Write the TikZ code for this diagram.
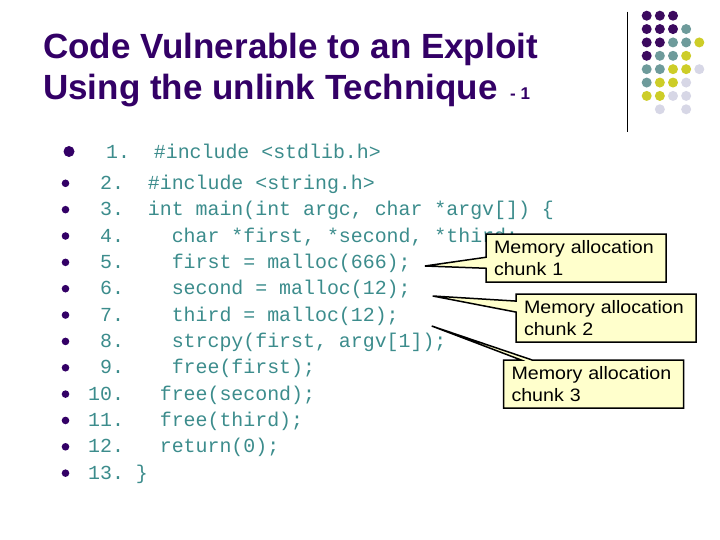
\documentclass[tikz,border=0pt]{standalone}
\usepackage{fontspec}
\setmainfont{Liberation Sans}
\newfontfamily\codemono{Liberation Mono}
\newfontfamily\notefont[FakeStretch=1.09]{Liberation Sans}
\usetikzlibrary{shapes.callouts}

\definecolor{titlepurple}{RGB}{51,0,102}
\definecolor{codeteal}{RGB}{60,140,140}
\definecolor{noteyellow}{RGB}{255,255,204}
\definecolor{dotpurple}{RGB}{60,10,95}
\definecolor{dotteal}{RGB}{110,155,155}
\definecolor{dotyellow}{RGB}{205,205,40}
\definecolor{dotlilac}{RGB}{215,215,230}

\tikzset{
  slidetitle/.style={anchor=base west, inner sep=0pt, text=titlepurple, font=\bfseries\fontsize{35}{40}\selectfont},
  codeline/.style={anchor=base west, inner sep=0pt, text=codeteal, font=\codemono\fontsize{19.9}{22}\selectfont},
  memnote/.style={rectangle callout, draw=black, line width=1.5pt, fill=noteyellow, inner sep=0pt,
    minimum width=180pt, minimum height=48pt, text width=164pt, align=left,
    callout pointer width=11pt, font=\notefont\fontsize{18}{22}\selectfont},
}

\begin{document}
\begin{tikzpicture}[x=1pt,y=-1pt]
\useasboundingbox (0,0) rectangle (720,540);
% title
\node[slidetitle] (title1) at (43,58.3) {Code Vulnerable to an Exploit};
\node[slidetitle] (title2) at (43,100) {Using the unlink Technique};
\node[slidetitle, font=\bfseries\fontsize{17}{20}\selectfont] (partno) at (510,100) {-~1};
% corner decoration
\draw[line width=1pt] (627.3,11.7) -- (627.3,131.7);
\foreach \col/\row/\dc in {0/0/dotpurple, 1/0/dotpurple, 2/0/dotpurple,
    0/1/dotpurple, 1/1/dotpurple, 2/1/dotpurple, 3/1/dotteal,
    0/2/dotpurple, 1/2/dotpurple, 2/2/dotteal, 3/2/dotteal, 4/2/dotyellow,
    0/3/dotpurple, 1/3/dotteal, 2/3/dotteal, 3/3/dotyellow,
    0/4/dotteal, 1/4/dotteal, 2/4/dotyellow, 3/4/dotyellow, 4/4/dotlilac,
    0/5/dotteal, 1/5/dotyellow, 2/5/dotyellow, 3/5/dotlilac,
    0/6/dotyellow, 1/6/dotyellow, 2/6/dotlilac, 3/6/dotlilac,
    1/7/dotlilac, 3/7/dotlilac}
  \fill[\dc] (646.7+13.15*\col, 15.7+13.37*\row) circle (5pt);
% bullets
\fill[titlepurple] (69,151.5) circle (5.5pt);
\foreach \by in {189.3,215.65,242.0,268.35,294.7,321.05,347.4,373.75,400.1,426.45,452.8,479.15}
  \fill[titlepurple] (65.5,\by-6) circle (3.8pt);
% code
\node[codeline] (l1) at (94,158.3) {~1.~~\#include <stdlib.h>};
\node[codeline] (l2) at (88,189.3) {~2.~~\#include <string.h>};
\node[codeline] (l3) at (88,215.65) {~3.~~int main(int argc, char *argv[]) \{};
\node[codeline] (l4) at (88,242.0) {~4.~~~~char *first, *second, *third;};
\node[codeline] (l5) at (88,268.35) {~5.~~~~first = malloc(666);};
\node[codeline] (l6) at (88,294.7) {~6.~~~~second = malloc(12);};
\node[codeline] (l7) at (88,321.05) {~7.~~~~third = malloc(12);};
\node[codeline] (l8) at (88,347.4) {~8.~~~~strcpy(first, argv[1]);};
\node[codeline] (l9) at (88,373.75) {~9.~~~~free(first);};
\node[codeline] (l10) at (88,400.1) {10.~~~free(second);};
\node[codeline] (l11) at (88,426.45) {11.~~~free(third);};
\node[codeline] (l12) at (88,452.8) {12.~~~return(0);};
\node[codeline] (l13) at (88,479.15) {13.~\}};
% callouts
\coordinate (tip1) at (425,266);
\coordinate (tip2) at (432.7,296);
\coordinate (tip3) at (431.7,326);
\node[memnote, callout absolute pointer=(tip1)] (mem1) at (576,258) {Memory allocation\\chunk 1};
\node[memnote, callout absolute pointer=(tip2)] (mem2) at (606,318) {Memory allocation\\chunk 2};
\node[memnote, callout absolute pointer=(tip3)] (mem3) at (593.5,384) {Memory allocation\\chunk 3};
\end{tikzpicture}
\end{document}
